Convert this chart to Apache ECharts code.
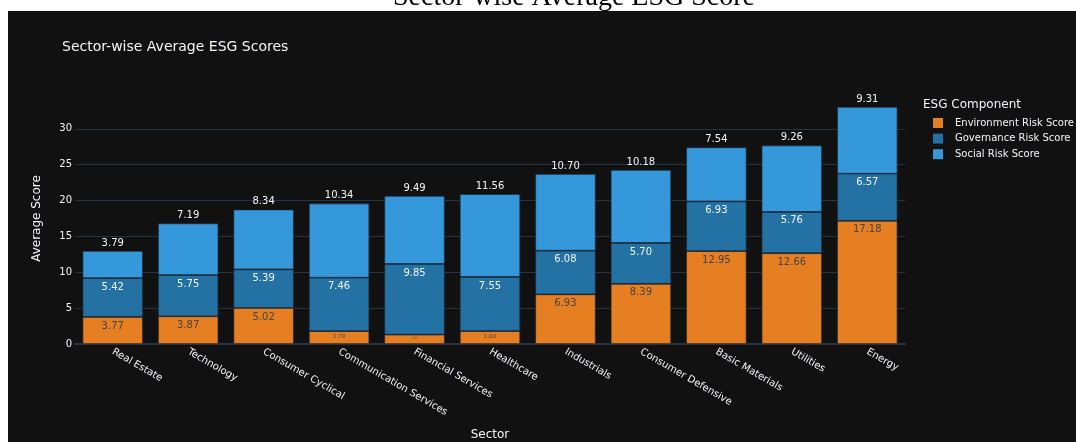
<!DOCTYPE html>
<html>
<head>
<meta charset="utf-8">
<title>Sector-wise Average ESG Score</title>
<script src="https://cdn.jsdelivr.net/npm/echarts@6/dist/echarts.min.js"></script>
<style>
  html, body { margin: 0; padding: 0; background: #fff; }
  #chart { width: 1076px; height: 442px; }
</style>
</head>
<body>
<div id="chart"></div>
<script>
// Sector averages of the three ESG risk components
const sectors = ['Real Estate', 'Technology', 'Consumer Cyclical', 'Communication Services',
  'Financial Services', 'Healthcare', 'Industrials', 'Consumer Defensive',
  'Basic Materials', 'Utilities', 'Energy'];
const envScores = [3.77, 3.87, 5.02, 1.79, 1.31, 1.80, 6.93, 8.39, 12.95, 12.66, 17.18];
const govScores = [5.42, 5.75, 5.39, 7.46, 9.85, 7.55, 6.08, 5.70, 6.93, 5.76, 6.57];
const socScores = [3.79, 7.19, 8.34, 10.34, 9.49, 11.56, 10.70, 10.18, 7.54, 9.26, 9.31];
const seriesNames = ['Environment Risk Score', 'Governance Risk Score', 'Social Risk Score'];
const yMax = 35;
const yStep = 5;

const FONT = '"DejaVu Sans", Verdana, sans-serif';
const TXT = '#f2f5fa';
const GRID = { left: 75, right: 171, top: 93, bottom: 98 };
const pxPerUnit = (442 - GRID.top - GRID.bottom) / yMax;

// Inside labels shrink when a segment is too short to hold them
function insideItems(values, color) {
  return values.map(v => {
    const h = v * pxPerUnit;
    const fs = Math.max(3, Math.min(10, (h - 6) / 1.25));
    return {
      value: v,
      label: { fontSize: fs, distance: fs < 10 ? Math.max(1, (h - fs) / 2 - 1) : 4, color: color }
    };
  });
}

const fmt2 = p => Number(p.value).toFixed(2);
const barBorder = { borderColor: '#1a2633', borderWidth: 0.7 };

const chart = echarts.init(document.getElementById('chart'), null, { renderer: 'canvas' });
chart.setOption({
  backgroundColor: '#ffffff',
  animation: false,
  textStyle: { fontFamily: FONT },
  graphic: [
    { type: 'rect', z: -100, shape: { x: 8, y: 11, width: 1068, height: 431 }, style: { fill: '#111111' } },
    { type: 'text', z: -90, x: 574, y: -2,
      style: { text: 'Sector-wise Average ESG Score', font: '28px "Liberation Serif", serif',
        fill: '#000', align: 'center', verticalAlign: 'middle' } },
    { type: 'text', x: 62, y: 47,
      style: { text: 'Sector-wise Average ESG Scores', font: '14px ' + FONT,
        fill: TXT, verticalAlign: 'middle' } },
    { type: 'text', x: 923, y: 105,
      style: { text: 'ESG Component', font: '12px ' + FONT, fill: TXT, verticalAlign: 'middle' } }
  ],
  legend: {
    data: seriesNames,
    orient: 'vertical',
    left: 933,
    top: 118,
    padding: 0,
    icon: 'rect',
    itemWidth: 10,
    itemHeight: 10,
    itemGap: 5.6,
    itemStyle: { borderWidth: 0 },
    textStyle: { color: TXT, fontSize: 10, fontFamily: FONT, padding: [0, 0, 0, 7] }
  },
  grid: Object.assign({ outerBoundsMode: 'none', containLabel: false }, GRID),
  xAxis: {
    type: 'category',
    data: sectors,
    name: 'Sector',
    nameLocation: 'middle',
    nameGap: 85,
    nameTextStyle: { color: TXT, fontSize: 12, fontFamily: FONT },
    axisLine: { show: true, lineStyle: { color: '#283442', width: 2 } },
    axisTick: { show: false },
    axisLabel: { rotate: -30, color: TXT, fontSize: 10, fontFamily: FONT, margin: 7, interval: 0 }
  },
  yAxis: {
    type: 'value',
    min: 0,
    max: yMax,
    interval: yStep,
    name: 'Average Score',
    nameLocation: 'middle',
    nameGap: 32,
    nameTextStyle: { color: TXT, fontSize: 12, fontFamily: FONT },
    axisLine: { show: false },
    axisTick: { show: false },
    axisLabel: { color: TXT, fontSize: 10, fontFamily: FONT, margin: 3, showMaxLabel: false },
    splitLine: { show: true, showMaxLine: false, lineStyle: { color: '#283442', width: 1 } }
  },
  series: [
    {
      name: seriesNames[0], type: 'bar', stack: 'esg', barCategoryGap: '20%',
      itemStyle: Object.assign({ color: '#E67E22' }, barBorder),
      label: { show: true, position: 'insideTop', fontFamily: FONT, color: '#444', formatter: fmt2 },
      data: insideItems(envScores, '#444')
    },
    {
      name: seriesNames[1], type: 'bar', stack: 'esg',
      itemStyle: Object.assign({ color: '#2471A3' }, barBorder),
      label: { show: true, position: 'insideTop', fontFamily: FONT, color: TXT, formatter: fmt2 },
      data: insideItems(govScores, TXT)
    },
    {
      name: seriesNames[2], type: 'bar', stack: 'esg',
      itemStyle: Object.assign({ color: '#3498DB' }, barBorder),
      label: { show: true, position: 'top', distance: 3, fontSize: 10, fontFamily: FONT, color: TXT,
        formatter: fmt2 },
      data: socScores
    }
  ]
});
</script>
</body>
</html>
